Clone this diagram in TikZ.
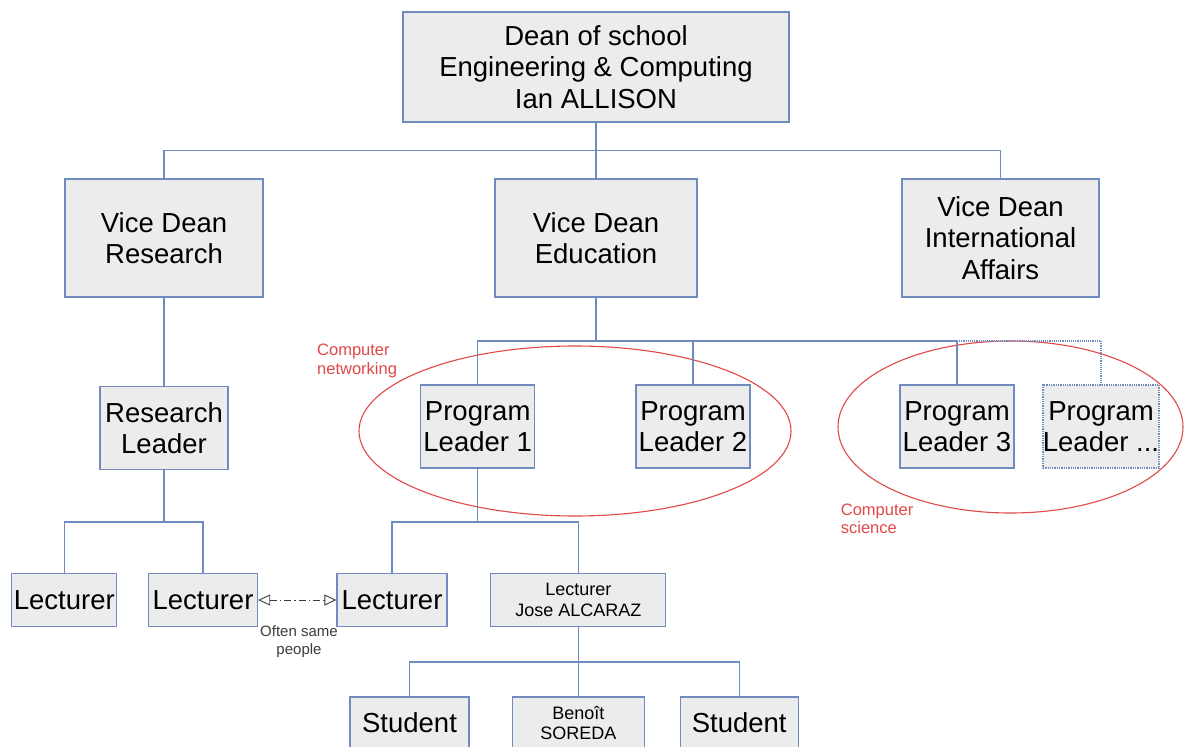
\documentclass[tikz,border=0pt]{standalone}
\usepackage{fontspec}
\setmainfont{Liberation Sans}
\usetikzlibrary{arrows.meta}
\definecolor{lineblue}{RGB}{112,140,190}
\definecolor{boxfill}{RGB}{236,236,236}
\definecolor{ellred}{RGB}{226,72,72}
\definecolor{notegray}{RGB}{60,60,60}
\tikzset{
  box/.style={draw=lineblue, line width=1.3pt, fill=boxfill, inner sep=0pt, align=center,
    font=\fontsize{27.5}{31.5}\selectfont, text=black},
  smallbox/.style={box, font=\fontsize{18}{20.5}\selectfont},
  dotbox/.style={box, densely dotted},
  conn/.style={draw=lineblue, line width=1.15pt},
  redtxt/.style={text=ellred, align=left, inner sep=0pt, font=\fontsize{16.5}{18.5}\selectfont},
  redell/.style={draw=ellred, line width=1.1pt},
  notetxt/.style={text=notegray, align=center, inner sep=0pt, font=\fontsize{15}{18}\selectfont},
  samearrow/.style={draw=notegray, line width=0.9pt, dash pattern=on 7pt off 3pt on 1.5pt off 3pt,
    {Triangle[open, length=12pt, width=11pt, fill=white]}-{Triangle[open, length=12pt, width=11pt, fill=white]}}
}
\begin{document}
\begin{tikzpicture}[x=1pt, y=-1pt]
\useasboundingbox (0,0) rectangle (1184,747);
\fill[white] (0,0) rectangle (1184,747);
\clip (0,0) rectangle (1184,747);

% ellipses (behind)
\draw[redell] (575,431) ellipse [x radius=216pt, y radius=85pt];
\draw[redell] (1010.5,427) ellipse [x radius=172.5pt, y radius=86pt];

% junction coordinates
\coordinate (j1) at (596,150.3);
\coordinate (j2) at (164,522);
\coordinate (j3) at (596,341);
\coordinate (j4) at (477.7,522);
\coordinate (j5) at (578.3,662);

% nodes
\node[box, minimum width=386pt, minimum height=110pt] (dean) at (596,67) {Dean of school\\Engineering \& Computing\\Ian ALLISON};
\node[box, minimum width=198pt, minimum height=118pt] (vdr) at (164,238) {Vice Dean\\Research};
\node[box, minimum width=202pt, minimum height=118pt] (vde) at (596,238) {Vice Dean\\Education};
\node[box, minimum width=197pt, minimum height=118pt] (vdi) at (1000.5,238) {Vice Dean\\International\\Affairs};

\node[box, minimum width=128pt, minimum height=83pt] (rl) at (164,428) {Research\\Leader};
\node[box, minimum width=114pt, minimum height=83pt] (pl1) at (477.7,426.5) {Program\\Leader 1};
\node[box, minimum width=114pt, minimum height=83pt] (pl2) at (693,426.5) {Program\\Leader 2};
\node[box, minimum width=114pt, minimum height=83pt] (pl3) at (957,426.5) {Program\\Leader 3};
\node[dotbox, minimum width=114pt, minimum height=83pt] (pl4) at (1101,426.5) {Program\\Leader ...};

\node[box, minimum width=105pt, minimum height=53pt] (lec1) at (64.3,600) {Lecturer};
\node[box, minimum width=109pt, minimum height=53pt] (lec2) at (203,600) {Lecturer};
\node[box, minimum width=110pt, minimum height=53pt] (lec3) at (392,600) {Lecturer};
\node[smallbox, minimum width=175pt, minimum height=53pt] (jose) at (578.3,600) {Lecturer\\Jose ALCARAZ};

\node[box, minimum width=119pt, minimum height=52pt] (st1) at (409.5,723) {Student};
\node[smallbox, minimum width=132pt, minimum height=52pt] (ben) at (578.3,723) {Benoît\\SOREDA};
\node[box, minimum width=118pt, minimum height=52pt] (st2) at (739.2,723) {Student};

% connectors
\draw[conn] (dean.south) -- (vde.north);
\draw[conn] (vdr.north) |- (j1) -| (vdi.north);
\draw[conn] (vdr.south) -- (rl.north);
\draw[conn] (rl.south) -- (j2);
\draw[conn] (lec1.north) |- (j2) -| (lec2.north);
\draw[conn] (vde.south) -- (j3);
\draw[conn] (pl1.north) |- (j3) -| (pl3.north);
\draw[conn] (pl2.north) -- (pl2.north |- j3);
\draw[conn, densely dotted] (pl3.north |- j3) -| (pl4.north);
\draw[conn] (pl1.south) -- (j4);
\draw[conn] (lec3.north) |- (j4) -| (jose.north);
\draw[conn] (jose.south) -- (ben.north);
\draw[conn] (st1.north) |- (j5) -| (st2.north);

% same-people link
\draw[samearrow] (lec2.east) -- (lec3.west);
\node[notetxt] (often) at (299,642) {Often same\\people};

% ellipse labels
\node[redtxt, anchor=west] (cnet) at (317,361) {Computer\\networking};
\node[redtxt, anchor=west] (csci) at (840.7,519) {Computer\\science};
\end{tikzpicture}
\end{document}
